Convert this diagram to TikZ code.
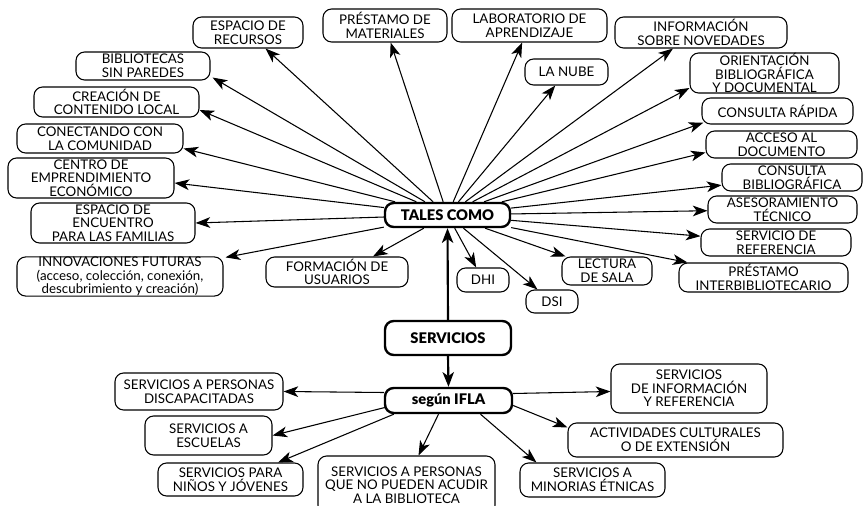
\documentclass[tikz,border=0pt]{standalone}
\usepackage{fontspec}
\setmainfont{Lato}
\newfontfamily\blk{Lato Black}
\usetikzlibrary{arrows.meta,calc}
\begin{document}
\begin{tikzpicture}[x=0.75pt,y=-0.75pt,
  bx/.style={draw, rounded corners=6.5pt, line width=0.8pt, align=center, inner sep=0pt, font=\fontsize{10}{10.2}\selectfont},
  sz/.style 2 args={minimum width={#1*0.75pt}, minimum height={#2*0.75pt}},
  hub/.style={bx, line width=1.8pt, font=\fontsize{11}{12}\selectfont\blk},
  ar/.style={-{Stealth[length=11pt,width=8pt,inset=3pt]}, line width=0.8pt},
  thk/.style={-{Stealth[length=11pt,width=8.5pt,inset=3pt]}, line width=1.6pt}]
\useasboundingbox (0,0) rectangle (866,506);
% hubs
\node[hub, sz={125}{24}] (tales) at (447.5,215) {TALES COMO};
\node[hub, sz={126}{34}] (serv) at (448,338) {SERVICIOS};
\node[hub, sz={127}{25}] (ifla) at (448.5,400.5) {según IFLA};
% left / top
\node[bx, sz={110}{31}] (er) at (248,32.5) {ESPACIO DE\\RECURSOS};
\node[bx, sz={134}{28}] (bib) at (143,66) {BIBLIOTECAS\\SIN PAREDES};
\node[bx, sz={165}{30}] (cre) at (116.5,102) {CREACIÓN DE\\CONTENIDO LOCAL};
\node[bx, sz={166}{29}] (con) at (100,138.5) {CONECTANDO CON\\LA COMUNIDAD};
\node[bx, sz={166}{40}] (cen) at (91,178) {CENTRO DE\\EMPRENDIMIENTO\\ECONÓMICO};
\node[bx, sz={164}{40}] (enc) at (113,223) {ESPACIO DE\\ENCUENTRO\\PARA LAS FAMILIAS};
\node[bx, sz={206}{39}] (inn) at (120,276.5) {INNOVACIONES FUTURAS\\(acceso, colección, conexión,\\descubrimiento y creación)};
\node[bx, sz={142}{30}] (for) at (337,272) {FORMACIÓN DE\\USUARIOS};
\node[bx, sz={52}{24}] (dhi) at (483,280) {DHI};
\node[bx, sz={52}{23}] (dsi) at (552,301.5) {DSI};
\node[bx, sz={90}{28}] (lec) at (607,271) {LECTURA\\DE SALA};
\node[bx, sz={124}{33}] (pm) at (385,25.5) {PRÉSTAMO DE\\MATERIALES};
\node[bx, sz={155}{33}] (lab) at (529.5,25.5) {LABORATORIO DE\\APRENDIZAJE};
\node[bx, sz={83}{26}] (nube) at (566.5,72) {LA NUBE};
% right
\node[bx, sz={172}{31}] (inf) at (701,32.5) {INFORMACIÓN\\SOBRE NOVEDADES};
\node[bx, sz={149}{40}] (ori) at (764.5,73) {ORIENTACIÓN\\BIBLIOGRÁFICA\\Y DOCUMENTAL};
\node[bx, sz={151}{26}] (cr) at (777.5,111) {CONSULTA RÁPIDA};
\node[bx, sz={151}{27}] (acc) at (781.5,144.5) {ACCESO AL\\DOCUMENTO};
\node[bx, sz={140}{27}] (cb) at (792,177.5) {CONSULTA\\BIBLIOGRÁFICA};
\node[bx, sz={149}{27}] (ase) at (782.5,209.5) {ASESORAMIENTO\\TÉCNICO};
\node[bx, sz={150}{27}] (sdr) at (776,242.5) {SERVICIO DE\\REFERENCIA};
\node[bx, sz={169}{29}] (pi) at (763.5,277.5) {PRÉSTAMO\\INTERBIBLIOTECARIO};
% IFLA
\node[bx, sz={168}{37}] (dis) at (199,391.5) {SERVICIOS A PERSONAS\\DISCAPACITADAS};
\node[bx, sz={127}{39}] (esc) at (208.5,435.5) {SERVICIOS A\\ESCUELAS};
\node[bx, sz={145}{33}] (nin) at (230.5,479.5) {SERVICIOS PARA\\NIÑOS Y JÓVENES};
\node[bx, sz={177}{58}] (qnp) at (406.5,485) {SERVICIOS A PERSONAS\\QUE NO PUEDEN ACUDIR\\A LA BIBLIOTECA};
\node[bx, sz={156}{49}] (sir) at (689,388.5) {SERVICIOS\\DE INFORMACIÓN\\Y REFERENCIA};
\node[bx, sz={215}{34}] (act) at (675.5,440) {ACTIVIDADES CULTURALES\\O DE EXTENSIÓN};
\node[bx, sz={145}{34}] (min) at (592.5,480) {SERVICIOS A\\MINORIAS ÉTNICAS};
% connectors
\draw[thk] (serv.north) -- (tales.south);
\draw[thk] (serv.south) -- (ifla.north);
\draw[ar] (tales) -- (er);
\draw[ar] (tales) -- ([shift={(2,-3)}]bib.south east);
\draw[ar] (tales) -- ([shift={(0,8)}]cre.east);
\draw[ar] (tales) -- ([shift={(0,10)}]con.east);
\draw[ar] (tales) -- ([shift={(0,5)}]cen.east);
\draw[ar] (tales) -- (enc.east);
\draw[ar] (tales) -- ([shift={(2,1)}]inn.north east);
\draw[ar] (tales) -- ([shift={(36,0)}]for.north);
\draw[ar] (tales) -- (dhi);
\draw[ar] (tales) -- (dsi);
\draw[ar] (tales) -- (lec);
\draw[ar] (tales) -- (pi);
\draw[ar] (tales) -- (sdr);
\draw[ar] (tales) -- (ase);
\draw[ar] (tales) -- (cb);
\draw[ar] (tales) -- ([shift={(0,8)}]acc.west);
\draw[ar] (tales) -- ([shift={(2,-2)}]cr.south west);
\draw[ar] (tales) -- ([shift={(0,15)}]ori.west);
\draw[ar] (tales) -- ([shift={(-28,0)}]inf.south);
\draw[ar] (tales) -- (nube);
\draw[ar] (tales) -- (lab);
\draw[ar] (tales) -- (pm);
\draw[ar] ([shift={(0,-8)}]ifla.west) -- (dis.east);
\draw[ar] ([shift={(1,7)}]ifla.west) -- (esc.east);
\draw[ar] ([shift={(10,0)}]ifla.south west) -- ([shift={(47.5,0)}]nin.north);
\draw[ar] ([shift={(-10,0)}]ifla.south) -- ([shift={(12,0)}]qnp.north);
\draw[ar] ([shift={(32,0)}]ifla.south) -- ([shift={(17,0)}]min.north west);
\draw[ar] ([shift={(0,5)}]ifla.east) -- ([shift={(0,5)}]act.north west);
\draw[ar] ([shift={(0,-7)}]ifla.east) -- ([shift={(0,3)}]sir.west);
\end{tikzpicture}
\end{document}
